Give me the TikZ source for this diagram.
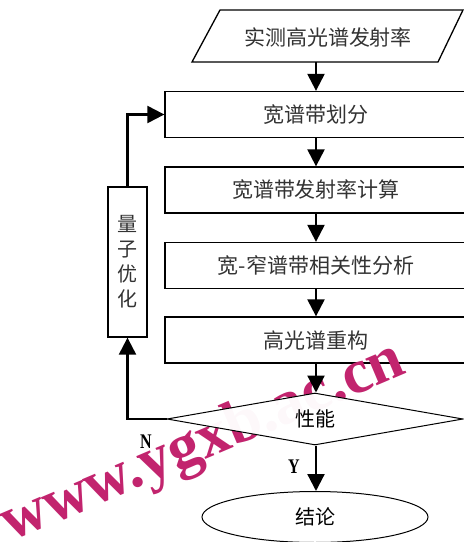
\documentclass[tikz,border=0pt]{standalone}
\usepackage{fontspec}
\setmainfont{Liberation Serif}
\newfontfamily\cjk{Noto Sans CJK SC}
\usetikzlibrary{arrows.meta,shapes.geometric}
\definecolor{wm}{RGB}{194,36,110}
\begin{document}
\begin{tikzpicture}[x=1pt,y=-1pt,
  box/.style={draw, line width=1.3pt, fill=white, minimum width=302pt, minimum height=46pt, inner sep=0pt},
  lbl/.style={font=\cjk\fontsize{21}{21}\selectfont, text=black!80},
  blbl/.style={font=\cjk\fontsize{20}{20}\selectfont, text=black},
  flow/.style={line width=2.2pt, -{Triangle[length=17pt,width=17pt]}},
  yn/.style={font=\bfseries\fontsize{16}{16}\selectfont, yscale=1.3, inner sep=0pt},
]
\useasboundingbox (0,0) rectangle (464,542);
% input parallelogram
\draw[line width=1.3pt, fill=white] (220,10) -- (463,10) -- (438,62) -- (192,62) -- cycle;
\node[lbl] (inp) at (328,37) {实测高光谱发射率};
\coordinate (inb) at (316,62);
% process boxes
\node[box, lbl] (b1) at (316,114.5) {宽谱带划分};
\node[box, lbl] (b2) at (316,190) {宽谱带发射率计算};
\node[box, lbl] (b3) at (316,265.5) {宽-窄谱带相关性分析};
\node[box, lbl] (b4) at (316,340) {高光谱重构};
% quantum optimisation box
\node[draw, line width=1.3pt, fill=white, minimum width=39pt, minimum height=150pt, inner sep=0pt,
      lbl, align=center, font=\cjk\fontsize{20}{25}\selectfont] (q) at (127.5,262) {量\\子\\优\\化};
% watermark
\node[text=wm, font=\bfseries\fontsize{63}{63}\selectfont, rotate=23, anchor=base west, inner sep=0pt] (wmk) at (10,542) {www.ygxb.ac.cn};
% decision
\node[diamond, draw, line width=1pt, fill=white, fill opacity=0.97, text opacity=1, minimum width=296pt, minimum height=52pt,
      inner sep=0pt, aspect=5.7, blbl] (perf) at (315,419) {性能};
% end
\node[ellipse, draw, line width=1pt, fill=white, minimum width=226pt, minimum height=51pt, blbl] (fin) at (315,517) {结论};
% connectors
\draw[flow] (inb) -- (b1.north);
\draw[flow] (b1.south) -- (b2.north);
\draw[flow] (b2.south) -- (b3.north);
\draw[flow] (b3.south) -- (b4.north);
\draw[flow] (b4.south) -- (b4.south |- perf.north);
\draw[flow] (perf.south -| b4.south) -- (fin.north -| b4.south);
\draw[flow] (perf.west) -| (q.south);
\draw[flow] (q.north) |- (b1.west);
% labels
\node[yn] (nl) at (146,442) {N};
\node[yn] (yl) at (294,467) {Y};
\end{tikzpicture}
\end{document}
